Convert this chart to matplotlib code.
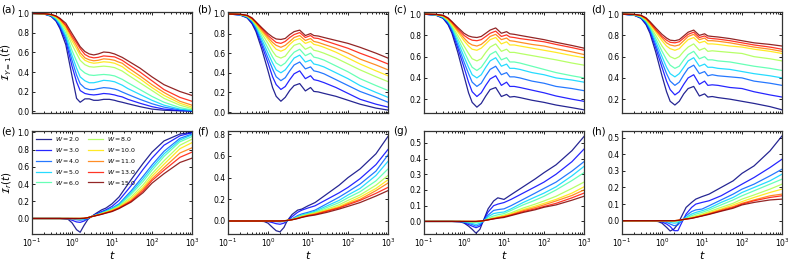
import numpy as np
import matplotlib
matplotlib.use('Agg')
import matplotlib.pyplot as plt
from matplotlib.ticker import MultipleLocator, LogLocator, NullFormatter

# disorder strengths (one curve each)
W_vals = [2.0, 3.0, 4.0, 5.0, 6.0, 8.0, 10.0, 11.0, 13.0, 15.0]

# time grids
t_top = [0.1, 0.2, 0.3, 0.4, 0.5, 0.7, 1.0, 1.3, 1.6, 2.1, 2.7, 3.5, 4.5, 6.2, 8.6, 11.6,
         14, 18, 25, 50, 100, 200, 500, 1000]
t_bot = [0.1, 0.5, 0.8, 1.0, 1.3, 1.6, 2.0, 2.5, 3.0, 4.0, 5.5, 7.0, 10, 15, 30, 60,
         100, 200, 500, 1000]

# top row: I_{Y=1}(t)
Ia = [
    [1.0,0.995,0.97,0.92,0.845,0.68,0.36,0.13,0.09,0.125,0.125,0.11,0.11,0.12,0.12,0.11,0.10,0.09,0.075,0.045,0.02,0.008,0.002,0.0],
    [1.0,0.995,0.975,0.93,0.86,0.72,0.46,0.30,0.21,0.18,0.17,0.165,0.17,0.18,0.175,0.165,0.155,0.145,0.12,0.08,0.045,0.02,0.005,0.0],
    [1.0,0.995,0.977,0.935,0.875,0.75,0.52,0.37,0.28,0.235,0.22,0.22,0.23,0.24,0.235,0.225,0.215,0.195,0.17,0.12,0.075,0.04,0.012,0.003],
    [1.0,0.996,0.98,0.94,0.89,0.77,0.57,0.44,0.35,0.31,0.29,0.29,0.30,0.315,0.31,0.30,0.285,0.265,0.23,0.17,0.11,0.06,0.02,0.006],
    [1.0,0.996,0.982,0.95,0.905,0.80,0.62,0.51,0.43,0.39,0.37,0.365,0.37,0.375,0.37,0.36,0.345,0.325,0.29,0.22,0.15,0.09,0.035,0.012],
    [1.0,0.997,0.985,0.96,0.92,0.83,0.68,0.59,0.52,0.475,0.455,0.45,0.455,0.46,0.455,0.445,0.43,0.41,0.37,0.29,0.21,0.13,0.06,0.025],
    [1.0,0.997,0.987,0.965,0.93,0.85,0.72,0.64,0.57,0.52,0.50,0.49,0.495,0.505,0.50,0.49,0.475,0.455,0.41,0.33,0.24,0.16,0.08,0.04],
    [1.0,0.998,0.988,0.97,0.94,0.87,0.75,0.67,0.60,0.545,0.525,0.515,0.52,0.535,0.53,0.52,0.505,0.49,0.445,0.36,0.27,0.19,0.10,0.06],
    [1.0,0.998,0.989,0.972,0.945,0.88,0.77,0.70,0.64,0.58,0.555,0.545,0.55,0.565,0.56,0.555,0.54,0.52,0.48,0.40,0.31,0.22,0.14,0.10],
    [1.0,0.998,0.99,0.975,0.95,0.90,0.795,0.72,0.66,0.61,0.585,0.575,0.585,0.605,0.60,0.585,0.57,0.55,0.515,0.44,0.35,0.27,0.20,0.16],
]
Ib = [
    [1.0,0.99,0.96,0.90,0.82,0.64,0.42,0.25,0.16,0.11,0.15,0.22,0.27,0.29,0.215,0.25,0.21,0.205,0.19,0.16,0.12,0.08,0.04,0.02],
    [1.0,0.99,0.965,0.91,0.84,0.68,0.50,0.36,0.28,0.23,0.26,0.33,0.39,0.42,0.34,0.37,0.33,0.32,0.30,0.25,0.19,0.13,0.08,0.05],
    [1.0,0.992,0.968,0.92,0.855,0.71,0.55,0.44,0.36,0.32,0.35,0.42,0.48,0.51,0.44,0.46,0.42,0.41,0.39,0.33,0.27,0.21,0.15,0.10],
    [1.0,0.993,0.97,0.93,0.87,0.74,0.60,0.50,0.43,0.40,0.43,0.49,0.55,0.58,0.51,0.53,0.49,0.48,0.46,0.40,0.34,0.27,0.20,0.15],
    [1.0,0.994,0.975,0.935,0.88,0.77,0.65,0.56,0.50,0.47,0.50,0.56,0.61,0.64,0.575,0.60,0.56,0.55,0.53,0.47,0.41,0.34,0.27,0.22],
    [1.0,0.995,0.978,0.94,0.89,0.80,0.70,0.62,0.57,0.55,0.57,0.63,0.68,0.70,0.64,0.665,0.63,0.62,0.60,0.55,0.49,0.43,0.36,0.31],
    [1.0,0.996,0.98,0.945,0.90,0.82,0.74,0.68,0.64,0.62,0.64,0.69,0.73,0.75,0.70,0.72,0.69,0.68,0.66,0.61,0.55,0.49,0.42,0.37],
    [1.0,0.996,0.982,0.95,0.91,0.835,0.76,0.71,0.68,0.66,0.68,0.72,0.76,0.78,0.73,0.75,0.72,0.71,0.69,0.65,0.60,0.54,0.48,0.43],
    [1.0,0.997,0.985,0.955,0.915,0.85,0.78,0.74,0.71,0.70,0.72,0.76,0.79,0.81,0.76,0.78,0.755,0.75,0.73,0.69,0.65,0.60,0.54,0.49],
    [1.0,0.997,0.987,0.96,0.92,0.86,0.80,0.765,0.745,0.74,0.75,0.79,0.82,0.835,0.78,0.80,0.78,0.775,0.76,0.73,0.70,0.66,0.60,0.55],
]
Ic = [
    [1.0,0.99,0.96,0.90,0.82,0.64,0.42,0.26,0.17,0.125,0.16,0.23,0.29,0.31,0.225,0.245,0.22,0.225,0.215,0.19,0.17,0.145,0.12,0.10],
    [1.0,0.99,0.965,0.91,0.84,0.68,0.50,0.36,0.27,0.225,0.26,0.33,0.39,0.42,0.33,0.36,0.32,0.32,0.31,0.285,0.26,0.23,0.20,0.18],
    [1.0,0.992,0.968,0.92,0.855,0.71,0.55,0.44,0.36,0.32,0.35,0.42,0.48,0.51,0.43,0.45,0.41,0.41,0.40,0.37,0.35,0.32,0.30,0.28],
    [1.0,0.993,0.97,0.93,0.87,0.74,0.60,0.50,0.43,0.40,0.43,0.50,0.56,0.59,0.51,0.53,0.49,0.49,0.48,0.45,0.43,0.40,0.38,0.36],
    [1.0,0.994,0.975,0.935,0.88,0.77,0.65,0.56,0.50,0.47,0.50,0.56,0.62,0.65,0.57,0.59,0.55,0.55,0.54,0.51,0.48,0.45,0.42,0.40],
    [1.0,0.995,0.978,0.94,0.89,0.80,0.70,0.63,0.58,0.56,0.58,0.64,0.69,0.72,0.65,0.67,0.64,0.64,0.63,0.61,0.59,0.57,0.54,0.52],
    [1.0,0.996,0.982,0.95,0.905,0.83,0.75,0.70,0.67,0.66,0.68,0.72,0.76,0.78,0.72,0.74,0.71,0.71,0.70,0.68,0.66,0.64,0.61,0.59],
    [1.0,0.997,0.985,0.955,0.915,0.845,0.775,0.73,0.71,0.70,0.715,0.75,0.79,0.81,0.76,0.775,0.75,0.745,0.735,0.715,0.70,0.675,0.645,0.62],
    [1.0,0.997,0.987,0.96,0.925,0.86,0.80,0.77,0.755,0.75,0.76,0.79,0.82,0.84,0.79,0.805,0.785,0.78,0.77,0.755,0.74,0.715,0.685,0.66],
    [1.0,0.998,0.989,0.965,0.93,0.875,0.82,0.795,0.785,0.78,0.79,0.82,0.85,0.87,0.82,0.835,0.815,0.81,0.80,0.78,0.76,0.735,0.705,0.68],
]
Id = [
    [1.0,0.99,0.96,0.90,0.82,0.64,0.42,0.27,0.18,0.145,0.18,0.25,0.30,0.32,0.23,0.25,0.22,0.225,0.215,0.20,0.18,0.16,0.13,0.10],
    [1.0,0.99,0.965,0.91,0.84,0.68,0.50,0.37,0.29,0.24,0.27,0.34,0.40,0.43,0.34,0.37,0.33,0.335,0.33,0.31,0.30,0.27,0.24,0.22],
    [1.0,0.992,0.968,0.92,0.855,0.71,0.55,0.44,0.37,0.33,0.36,0.43,0.49,0.52,0.44,0.46,0.42,0.43,0.42,0.41,0.40,0.37,0.35,0.33],
    [1.0,0.993,0.97,0.93,0.87,0.74,0.60,0.50,0.44,0.41,0.44,0.50,0.56,0.59,0.51,0.53,0.50,0.50,0.49,0.48,0.46,0.44,0.42,0.40],
    [1.0,0.994,0.975,0.935,0.88,0.77,0.65,0.57,0.52,0.49,0.51,0.57,0.62,0.65,0.58,0.60,0.57,0.57,0.56,0.55,0.53,0.51,0.49,0.47],
    [1.0,0.995,0.978,0.94,0.89,0.80,0.70,0.64,0.60,0.58,0.60,0.65,0.69,0.72,0.66,0.68,0.65,0.655,0.65,0.64,0.63,0.60,0.58,0.56],
    [1.0,0.996,0.982,0.95,0.905,0.83,0.75,0.70,0.675,0.66,0.675,0.72,0.76,0.78,0.73,0.745,0.72,0.72,0.715,0.70,0.69,0.67,0.65,0.63],
    [1.0,0.997,0.985,0.955,0.915,0.845,0.775,0.73,0.71,0.70,0.71,0.75,0.79,0.81,0.76,0.775,0.75,0.75,0.745,0.73,0.71,0.69,0.67,0.65],
    [1.0,0.997,0.987,0.96,0.92,0.855,0.79,0.755,0.735,0.73,0.74,0.775,0.81,0.83,0.78,0.795,0.775,0.77,0.765,0.75,0.73,0.71,0.69,0.67],
    [1.0,0.998,0.989,0.965,0.93,0.87,0.81,0.775,0.755,0.75,0.76,0.795,0.83,0.85,0.80,0.815,0.795,0.79,0.785,0.77,0.75,0.73,0.715,0.70],
]

# bottom row: I_r(t)
Ie = [
    [0,0,-0.01,-0.05,-0.13,-0.16,-0.08,-0.01,0.02,0.06,0.10,0.12,0.17,0.25,0.45,0.64,0.77,0.90,0.98,1.0],
    [0,0,-0.005,-0.02,-0.04,-0.045,-0.03,0.0,0.02,0.05,0.08,0.10,0.14,0.21,0.38,0.57,0.70,0.85,0.96,0.995],
    [0,0,0,-0.005,-0.015,-0.02,-0.015,0.0,0.02,0.045,0.07,0.09,0.12,0.17,0.32,0.49,0.62,0.78,0.93,0.98],
    [0,0,0,0,-0.005,-0.008,-0.005,0.005,0.02,0.04,0.065,0.085,0.115,0.16,0.30,0.46,0.59,0.75,0.91,0.97],
    [0,0,0,0,0,-0.003,0,0.008,0.02,0.04,0.06,0.08,0.11,0.15,0.28,0.43,0.56,0.72,0.89,0.95],
    [0,0,0,0,0,0,0.002,0.01,0.02,0.038,0.058,0.075,0.10,0.14,0.25,0.39,0.52,0.67,0.85,0.92],
    [0,0,0,0,0,0,0.002,0.01,0.02,0.036,0.055,0.07,0.095,0.13,0.23,0.36,0.49,0.63,0.81,0.88],
    [0,0,0,0,0,0,0.002,0.01,0.02,0.035,0.052,0.067,0.09,0.125,0.21,0.34,0.46,0.59,0.76,0.82],
    [0,0,0,0,0,0,0.002,0.01,0.02,0.034,0.05,0.064,0.085,0.12,0.20,0.32,0.44,0.56,0.71,0.77],
    [0,0,0,0,0,0,0.002,0.01,0.02,0.033,0.048,0.062,0.08,0.115,0.19,0.30,0.41,0.52,0.65,0.70],
]
If = [
    [0,0,-0.005,-0.02,-0.06,-0.09,-0.10,-0.06,0.0,0.06,0.10,0.11,0.14,0.17,0.25,0.33,0.40,0.48,0.62,0.78],
    [0,0,0,-0.005,-0.015,-0.025,-0.03,-0.02,0.0,0.04,0.08,0.10,0.12,0.14,0.20,0.26,0.31,0.39,0.52,0.66],
    [0,0,0,0,-0.003,-0.006,-0.008,-0.005,0.0,0.02,0.05,0.065,0.08,0.10,0.16,0.22,0.27,0.34,0.46,0.61],
    [0,0,0,0,0,-0.002,-0.003,0,0.003,0.015,0.04,0.055,0.07,0.09,0.14,0.19,0.24,0.30,0.42,0.55],
    [0,0,0,0,0,0,0,0.002,0.005,0.015,0.035,0.05,0.065,0.08,0.125,0.17,0.215,0.27,0.37,0.48],
    [0,0,0,0,0,0,0,0.002,0.005,0.015,0.03,0.045,0.06,0.075,0.11,0.15,0.19,0.24,0.33,0.42],
    [0,0,0,0,0,0,0,0.002,0.005,0.013,0.027,0.04,0.055,0.07,0.10,0.135,0.17,0.22,0.30,0.38],
    [0,0,0,0,0,0,0,0.002,0.005,0.012,0.025,0.037,0.05,0.065,0.095,0.125,0.16,0.20,0.28,0.35],
    [0,0,0,0,0,0,0,0.002,0.005,0.012,0.024,0.035,0.05,0.06,0.09,0.12,0.15,0.19,0.255,0.31],
    [0,0,0,0,0,0,0,0.002,0.005,0.011,0.022,0.033,0.045,0.055,0.08,0.11,0.135,0.17,0.23,0.28],
]
Ig = [
    [0,0,-0.003,-0.01,-0.03,-0.05,-0.075,-0.05,0.0,0.08,0.13,0.15,0.14,0.17,0.22,0.27,0.31,0.36,0.45,0.54],
    [0,0,-0.002,-0.008,-0.02,-0.03,-0.04,-0.03,0.0,0.06,0.10,0.11,0.12,0.14,0.18,0.22,0.25,0.30,0.38,0.46],
    [0,0,0,-0.005,-0.012,-0.02,-0.03,-0.02,0.0,0.04,0.07,0.075,0.08,0.10,0.14,0.18,0.21,0.25,0.32,0.38],
    [0,0,0,-0.003,-0.008,-0.013,-0.02,-0.012,0.0,0.03,0.05,0.055,0.06,0.08,0.12,0.155,0.18,0.22,0.29,0.35],
    [0,0,0,0,-0.003,-0.006,-0.008,-0.004,0.002,0.02,0.035,0.042,0.05,0.07,0.105,0.135,0.16,0.20,0.26,0.31],
    [0,0,0,0,0,-0.002,-0.002,0,0.003,0.015,0.025,0.03,0.04,0.055,0.085,0.11,0.13,0.16,0.21,0.25],
    [0,0,0,0,0,0,0,0.002,0.004,0.012,0.02,0.027,0.035,0.048,0.075,0.097,0.115,0.14,0.18,0.22],
    [0,0,0,0,0,0,0,0.002,0.004,0.01,0.018,0.024,0.03,0.043,0.068,0.088,0.105,0.13,0.165,0.20],
    [0,0,0,0,0,0,0,0.002,0.004,0.01,0.017,0.022,0.03,0.04,0.062,0.08,0.095,0.115,0.15,0.18],
    [0,0,0,0,0,0,0,0.002,0.004,0.01,0.016,0.02,0.025,0.037,0.057,0.074,0.09,0.105,0.135,0.16],
]
Ih = [
    [0,0,-0.005,-0.015,-0.04,-0.062,-0.05,-0.02,0.02,0.08,0.11,0.13,0.145,0.16,0.20,0.24,0.285,0.33,0.42,0.51],
    [0,0,-0.002,-0.008,-0.02,-0.035,-0.06,-0.06,-0.02,0.04,0.08,0.10,0.11,0.12,0.15,0.19,0.22,0.26,0.32,0.37],
    [0,0,0,-0.004,-0.01,-0.02,-0.03,-0.025,-0.005,0.03,0.055,0.065,0.07,0.09,0.125,0.16,0.19,0.22,0.27,0.31],
    [0,0,0,-0.002,-0.005,-0.01,-0.015,-0.012,0.0,0.02,0.04,0.05,0.06,0.075,0.11,0.14,0.17,0.20,0.24,0.28],
    [0,0,0,0,-0.002,-0.004,-0.006,-0.004,0.003,0.015,0.03,0.04,0.05,0.065,0.095,0.125,0.15,0.18,0.22,0.25],
    [0,0,0,0,0,0,-0.002,0,0.004,0.012,0.022,0.03,0.04,0.055,0.08,0.105,0.13,0.155,0.19,0.22],
    [0,0,0,0,0,0,0,0.002,0.005,0.01,0.018,0.025,0.035,0.048,0.07,0.095,0.115,0.14,0.17,0.19],
    [0,0,0,0,0,0,0,0.002,0.005,0.01,0.016,0.022,0.03,0.043,0.065,0.085,0.105,0.125,0.15,0.16],
    [0,0,0,0,0,0,0,0.002,0.005,0.01,0.015,0.02,0.03,0.04,0.06,0.08,0.10,0.12,0.14,0.15],
    [0,0,0,0,0,0,0,0.002,0.005,0.01,0.014,0.02,0.028,0.038,0.057,0.075,0.095,0.11,0.125,0.13],
]

top_sets = [Ia, Ib, Ic, Id]
bot_sets = [Ie, If, Ig, Ih]
top_ylims = [(-0.02, 1.015), (-0.01, 1.02), (0.07, 1.02), (0.07, 1.02)]
bot_ylims = [(-0.18, 1.015), (-0.12, 0.83), (-0.08, 0.575), (-0.08, 0.54)]
top_steps = [0.2, 0.2, 0.2, 0.2]
bot_steps = [0.2, 0.2, 0.1, 0.1]
top_tags = ['(a)', '(b)', '(c)', '(d)']
bot_tags = ['(e)', '(f)', '(g)', '(h)']

colors = plt.cm.jet(np.linspace(0, 1, len(W_vals)))

W, H = 793, 260
fig = plt.figure(figsize=(W/100, H/100), dpi=100)
lefts = [32, 228, 424, 622]


def style(ax, ylim, step):
    ax.set_xscale('log')
    ax.set_xlim(0.1, 1000)
    ax.set_ylim(*ylim)
    ax.xaxis.set_major_locator(LogLocator(base=10, numticks=10))
    ax.xaxis.set_minor_locator(LogLocator(base=10, subs=np.arange(2, 10), numticks=20))
    ax.xaxis.set_minor_formatter(NullFormatter())
    ax.yaxis.set_major_locator(MultipleLocator(step))
    ax.tick_params(which='both', direction='in', top=True, right=True, labelsize=5.5, width=0.6, pad=2)
    ax.tick_params(which='major', length=2.5)
    ax.tick_params(which='minor', length=1.5)
    for s in ax.spines.values():
        s.set_linewidth(0.9)
        s.set_color('#333333')


for col in range(4):
    axt = fig.add_axes([lefts[col]/W, 1-113/H, 160/W, 101/H])
    axb = fig.add_axes([lefts[col]/W, 1-234/H, 160/W, 103/H])
    for i, row in enumerate(top_sets[col]):
        axt.plot(t_top, row, color=colors[i], lw=0.9, alpha=0.85)
    for i, row in enumerate(bot_sets[col]):
        axb.plot(t_bot, row, color=colors[i], lw=0.9, alpha=0.85, label='$W=%.1f$' % W_vals[i])
    style(axt, top_ylims[col], top_steps[col])
    style(axb, bot_ylims[col], bot_steps[col])
    axt.set_yticks([v for v in np.arange(0, 1.01, 0.2) if v >= top_ylims[col][0]])
    axt.tick_params(labelbottom=False)
    axb.set_xlabel('$t$', fontsize=8, labelpad=0)
    axt.text(-0.19, 1.02, top_tags[col], transform=axt.transAxes, fontsize=7.5, ha='left', va='center')
    axb.text(-0.19, 1.0, bot_tags[col], transform=axb.transAxes, fontsize=7.5, ha='left', va='center')
    if col == 0:
        axt.set_ylabel(r'$\overline{\mathcal{I}}_{Y=1}(t)$', fontsize=7.5, labelpad=2)
        axb.set_ylabel(r'$\mathcal{I}_r(t)$', fontsize=7.5, labelpad=2)
        axb.legend(loc='upper left', ncol=2, fontsize=4.5, frameon=False, handlelength=2.4,
                   columnspacing=1.2, labelspacing=0.45, borderaxespad=0.3, handletextpad=0.6)

fig.savefig('out.png', dpi=100)
